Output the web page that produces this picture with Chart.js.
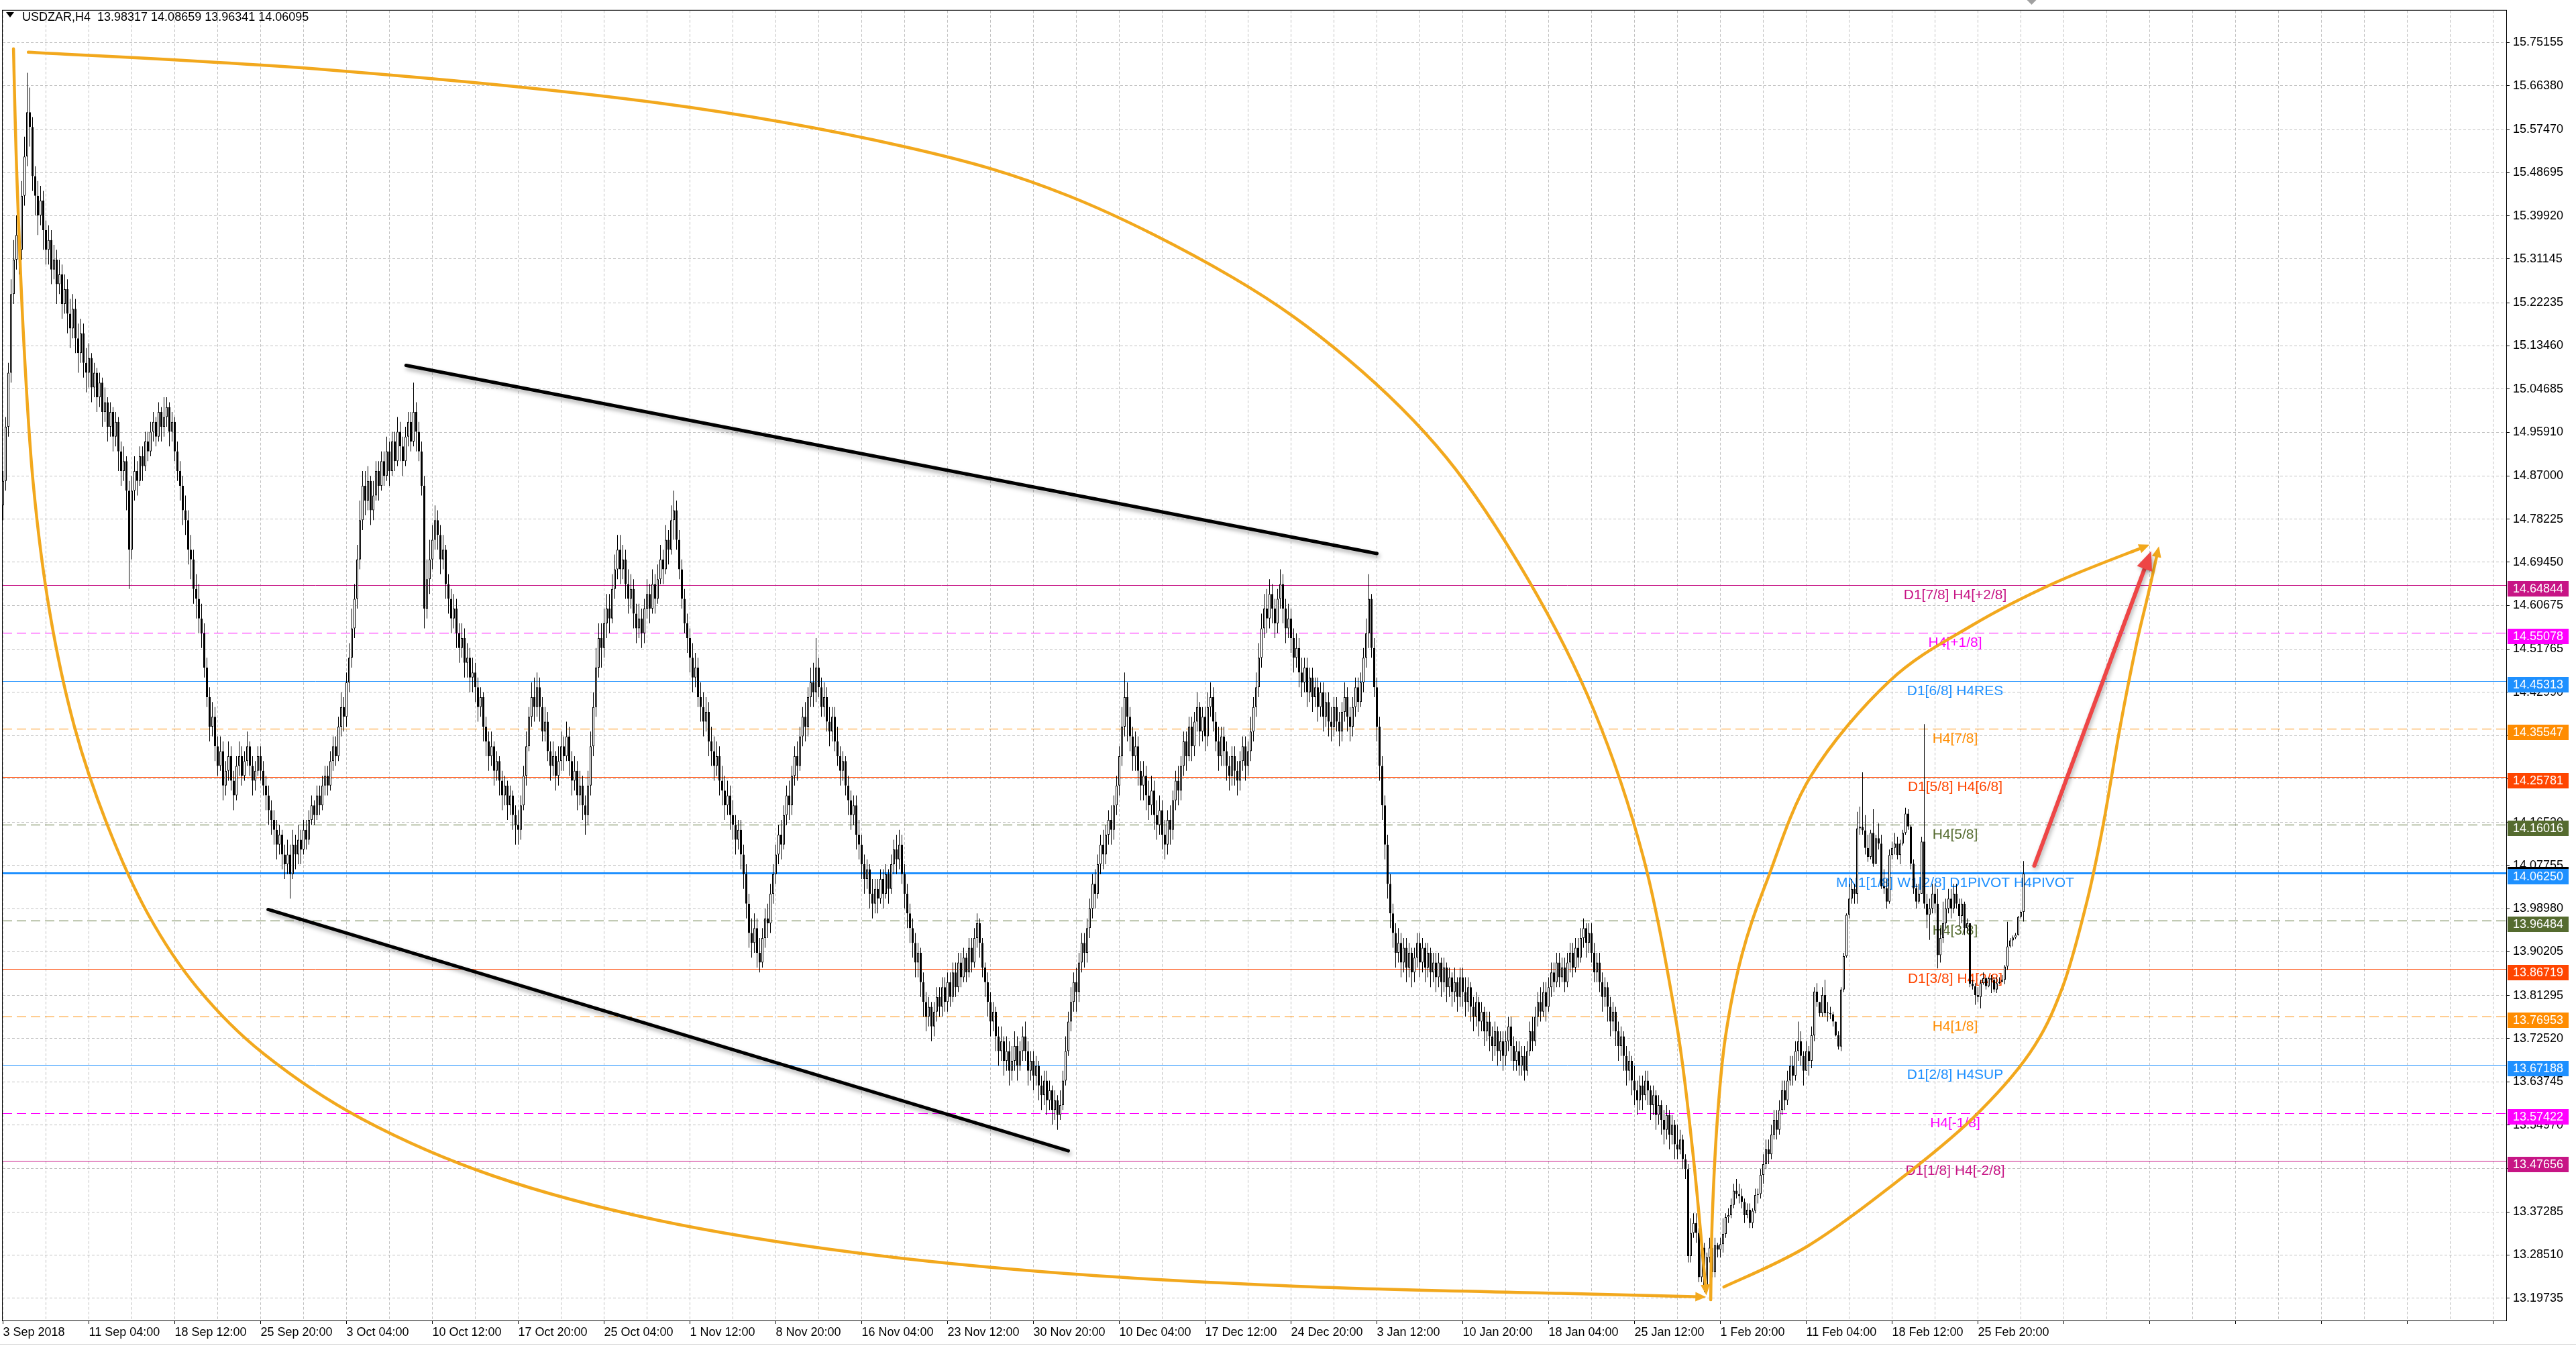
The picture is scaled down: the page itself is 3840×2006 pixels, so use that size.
<!DOCTYPE html>
<html>
<head>
<meta charset="utf-8">
<title>USDZAR,H4</title>
<script src="https://cdn.jsdelivr.net/npm/chart.js@4.4.1/dist/chart.umd.min.js"></script>
<style>
  html, body { margin: 0; padding: 0; background: #fff; }
  canvas { display: block; }
</style>
</head>
<body>
<canvas id="chart" width="3840" height="2006"></canvas>
<script>
// USDZAR H4 candles, 3 Sep 2018 .. 28 Feb 2019
const symbol = 'USDZAR';
const period = 'H4';
const firstOpen = 14.81;

const closes = [
  // 3 Sep
  14.86,14.97,15.08,15.24,15.31,15.36,15.33,15.44,15.52,15.61,15.58,15.48,15.44,15.40,15.43,15.37,
  15.33,15.35,15.29,15.31,15.26,15.28,15.22,15.25,15.20,15.17,15.21,15.15,15.12,15.16,15.10,15.08,
  // 11 Sep
  15.11,15.05,15.08,15.03,15.06,15.00,15.02,14.97,15.00,14.95,14.98,14.92,14.88,14.90,14.84,14.72,
  14.84,14.88,14.86,14.91,14.89,14.94,14.92,14.96,14.98,14.95,15.00,14.97,14.99,15.01,14.96,14.98,
  // 18 Sep
  14.92,14.88,14.85,14.80,14.78,14.72,14.70,14.64,14.62,14.58,14.55,14.48,14.42,14.36,14.38,14.32,
  14.28,14.31,14.24,14.27,14.30,14.25,14.22,14.28,14.30,14.26,14.29,14.32,14.28,14.25,14.27,14.30,
  // 25 Sep
  14.27,14.24,14.22,14.19,14.17,14.15,14.12,14.14,14.10,14.08,14.10,14.06,14.12,14.10,14.13,14.11,
  14.15,14.13,14.17,14.20,14.18,14.22,14.20,14.24,14.26,14.24,14.29,14.32,14.30,14.36,14.40,14.38,
  // 3 Oct
  14.45,14.50,14.56,14.62,14.70,14.78,14.85,14.82,14.86,14.80,14.83,14.88,14.85,14.90,14.87,14.92,
  14.88,14.94,14.90,14.96,14.93,14.90,14.95,14.98,14.94,15.00,14.96,14.92,14.85,14.60,14.66,14.70,
  // 10 Oct
  14.74,14.78,14.75,14.70,14.72,14.65,14.62,14.58,14.60,14.55,14.52,14.54,14.49,14.50,14.46,14.47,
  14.44,14.40,14.42,14.36,14.33,14.30,14.32,14.27,14.29,14.25,14.22,14.24,14.20,14.22,14.18,14.16,
  // 17 Oct
  14.15,14.20,14.26,14.32,14.38,14.42,14.40,14.44,14.40,14.35,14.37,14.31,14.28,14.30,14.26,14.29,
  14.32,14.30,14.34,14.29,14.25,14.27,14.22,14.24,14.20,14.18,14.24,14.32,14.40,14.48,14.54,14.52,
  // 25 Oct
  14.57,14.60,14.58,14.64,14.68,14.72,14.68,14.70,14.65,14.62,14.64,14.59,14.56,14.58,14.55,14.60,
  14.63,14.60,14.65,14.62,14.66,14.70,14.68,14.74,14.72,14.78,14.80,14.74,14.68,14.62,14.57,14.54,
  // 1 Nov
  14.50,14.46,14.48,14.42,14.40,14.37,14.39,14.33,14.31,14.28,14.30,14.25,14.23,14.20,14.22,14.18,
  14.16,14.13,14.15,14.10,14.06,14.00,13.94,13.92,13.95,13.90,13.88,13.93,13.97,13.96,14.02,14.06,
  // 8 Nov
  14.10,14.14,14.12,14.18,14.22,14.20,14.26,14.30,14.28,14.34,14.38,14.36,14.42,14.45,14.43,14.48,
  14.44,14.40,14.42,14.37,14.35,14.38,14.33,14.30,14.27,14.29,14.24,14.21,14.18,14.20,14.14,14.12,
  // 16 Nov
  14.08,14.05,14.07,14.02,14.00,14.03,14.01,14.05,14.02,14.06,14.03,14.08,14.11,14.09,14.12,14.06,
  14.02,13.98,13.95,13.92,13.88,13.90,13.84,13.80,13.77,13.79,13.75,13.78,13.81,13.79,13.83,13.80,
  // 23 Nov
  13.84,13.81,13.86,13.83,13.88,13.85,13.89,13.86,13.91,13.88,13.93,13.96,13.92,13.87,13.84,13.80,
  13.76,13.78,13.73,13.70,13.72,13.68,13.70,13.66,13.68,13.71,13.67,13.70,13.73,13.70,13.66,13.68,
  // 30 Nov
  13.65,13.67,13.63,13.61,13.64,13.60,13.62,13.58,13.60,13.57,13.59,13.64,13.70,13.76,13.80,13.84,
  13.82,13.88,13.92,13.90,13.95,13.99,14.04,14.02,14.08,14.12,14.10,14.14,14.17,14.15,14.20,14.24,
  // 10 Dec
  14.30,14.36,14.42,14.38,14.34,14.30,14.32,14.27,14.24,14.26,14.22,14.20,14.23,14.18,14.16,14.19,
  14.14,14.12,14.17,14.15,14.21,14.25,14.23,14.28,14.33,14.30,14.36,14.32,14.37,14.40,14.35,14.38,
  // 17 Dec
  14.34,14.40,14.42,14.37,14.33,14.30,14.34,14.31,14.28,14.26,14.30,14.27,14.25,14.29,14.32,14.28,
  14.31,14.35,14.40,14.44,14.50,14.56,14.60,14.58,14.63,14.60,14.57,14.62,14.65,14.60,14.56,14.58,
  // 24 Dec
  14.54,14.50,14.52,14.47,14.45,14.48,14.43,14.46,14.42,14.44,14.40,14.43,14.38,14.41,14.37,14.36,
  14.40,14.37,14.35,14.39,14.42,14.38,14.36,14.40,14.44,14.41,14.45,14.50,14.55,14.62,14.52,14.44,
  // 3 Jan
  14.36,14.28,14.20,14.12,14.04,13.98,13.94,13.90,13.92,13.88,13.91,13.87,13.90,13.86,13.89,13.92,
  13.88,13.91,13.87,13.90,13.86,13.88,13.85,13.88,13.84,13.87,13.83,13.85,13.82,13.84,13.81,13.85,
  // 10 Jan
  13.82,13.80,13.83,13.79,13.77,13.80,13.76,13.78,13.74,13.76,13.73,13.71,13.74,13.70,13.72,13.69,
  13.72,13.75,13.71,13.68,13.70,13.67,13.69,13.66,13.70,13.74,13.72,13.77,13.80,13.78,13.82,13.79,
  // 18 Jan
  13.83,13.86,13.84,13.88,13.85,13.87,13.84,13.88,13.90,13.87,13.91,13.89,13.93,13.95,13.92,13.94,
  13.90,13.86,13.88,13.84,13.81,13.83,13.79,13.76,13.78,13.74,13.71,13.73,13.69,13.66,13.68,13.64,
  // 25 Jan
  13.62,13.60,13.63,13.61,13.64,13.62,13.59,13.61,13.57,13.59,13.56,13.54,13.57,13.53,13.55,13.51,
  13.50,13.52,13.48,13.46,13.283,13.33,13.35,13.33,13.24,13.30,13.22,13.28,13.30,13.25,13.305,13.296,
  // 1 Feb
  13.307,13.328,13.362,13.366,13.387,13.416,13.409,13.405,13.393,13.366,13.377,13.35,13.375,13.407,13.409,13.448,
  13.47,13.50,13.49,13.53,13.56,13.54,13.58,13.62,13.60,13.64,13.67,13.65,13.70,13.72,13.69,13.66,
  // 11 Feb
  13.70,13.68,13.732,13.821,13.800,13.777,13.814,13.777,13.777,13.775,13.760,13.732,13.709,13.825,13.893,13.977,
  14.01,14.03,14.02,14.153,14.156,14.149,14.113,14.095,14.144,14.081,14.133,14.122,14.035,14.031,14.004,14.099,
  // 18 Feb
  14.113,14.122,14.099,14.122,14.144,14.183,14.157,14.081,14.031,14.004,14.02,14.126,14.00,13.977,13.99,14.02,
  14.00,13.895,13.93,13.96,13.99,14.01,13.99,14.02,14.00,13.975,14.00,13.95,13.96,13.837,13.832,13.814,
  // 25 Feb
  13.81,13.838,13.848,13.832,13.848,13.845,13.825,13.838,13.841,13.845,13.872,13.913,13.925,13.931,13.936,13.973,13.98317,14.06095
];

const highs = [
  14.88,14.99,15.10,15.27,15.35,15.40,15.39,15.47,15.56,15.69,15.66,15.60,15.50,15.47,15.46,15.45,
  15.39,15.38,15.37,15.34,15.33,15.31,15.30,15.28,15.27,15.23,15.24,15.23,15.18,15.19,15.18,15.13,
  15.14,15.12,15.10,15.09,15.08,15.07,15.05,15.03,15.02,15.01,15.00,14.99,14.94,14.93,14.91,14.86,
  14.87,14.91,14.90,14.93,14.93,14.96,14.96,14.98,15.00,14.99,15.02,15.01,15.03,15.03,15.02,15.00,
  14.99,14.94,14.90,14.87,14.83,14.80,14.75,14.72,14.67,14.65,14.61,14.57,14.50,14.44,14.41,14.40,
  14.34,14.34,14.33,14.29,14.33,14.32,14.27,14.30,14.33,14.32,14.31,14.35,14.33,14.30,14.29,14.32,
  14.32,14.29,14.26,14.24,14.21,14.19,14.17,14.16,14.15,14.12,14.13,14.12,14.15,14.14,14.16,14.15,
  14.17,14.17,14.19,14.22,14.21,14.24,14.24,14.26,14.28,14.28,14.31,14.34,14.34,14.38,14.43,14.42,
  14.47,14.53,14.60,14.65,14.73,14.82,14.88,14.88,14.89,14.87,14.86,14.90,14.90,14.92,14.92,14.95,
  14.94,14.96,14.96,14.99,14.98,14.95,14.97,15.00,15.00,15.06,15.02,14.98,14.94,14.87,14.70,14.74,
  14.77,14.81,14.80,14.77,14.75,14.73,14.67,14.64,14.63,14.62,14.57,14.57,14.56,14.53,14.52,14.50,
  14.49,14.46,14.44,14.43,14.38,14.35,14.35,14.33,14.31,14.30,14.27,14.26,14.25,14.24,14.23,14.20,
  14.19,14.22,14.28,14.35,14.40,14.45,14.46,14.47,14.46,14.42,14.40,14.39,14.33,14.33,14.31,14.32,
  14.35,14.34,14.37,14.36,14.31,14.30,14.29,14.27,14.26,14.22,14.27,14.35,14.43,14.52,14.57,14.57,
  14.60,14.63,14.63,14.67,14.71,14.75,14.75,14.73,14.72,14.68,14.67,14.66,14.61,14.61,14.60,14.62,
  14.66,14.65,14.68,14.67,14.69,14.73,14.72,14.77,14.76,14.81,14.84,14.82,14.76,14.70,14.64,14.59,
  14.56,14.53,14.51,14.50,14.45,14.43,14.42,14.41,14.36,14.34,14.33,14.32,14.28,14.26,14.25,14.24,
  14.21,14.18,14.17,14.17,14.12,14.08,14.02,13.97,13.98,13.97,13.93,13.95,13.99,14.00,14.04,14.08,
  14.12,14.16,14.17,14.20,14.24,14.25,14.28,14.32,14.33,14.36,14.40,14.41,14.44,14.48,14.49,14.54,
  14.50,14.46,14.45,14.44,14.40,14.40,14.40,14.36,14.32,14.31,14.30,14.26,14.23,14.22,14.22,14.17,
  14.14,14.10,14.09,14.08,14.05,14.05,14.05,14.07,14.07,14.08,14.07,14.10,14.13,14.14,14.15,14.14,
  14.08,14.04,14.00,13.97,13.94,13.92,13.91,13.86,13.82,13.81,13.80,13.80,13.83,13.83,13.85,13.85,
  13.86,13.86,13.88,13.88,13.90,13.90,13.91,13.90,13.93,13.93,13.95,13.98,13.97,13.93,13.88,13.86,
  13.82,13.80,13.79,13.75,13.75,13.73,13.73,13.72,13.71,13.74,13.73,13.72,13.75,13.76,13.72,13.70,
  13.70,13.69,13.68,13.65,13.66,13.66,13.64,13.63,13.62,13.61,13.62,13.66,13.73,13.78,13.83,13.86,
  13.87,13.90,13.94,13.94,13.97,14.01,14.06,14.07,14.10,14.14,14.15,14.16,14.19,14.20,14.22,14.26,
  14.32,14.40,14.47,14.45,14.40,14.36,14.35,14.34,14.29,14.29,14.28,14.25,14.26,14.25,14.21,14.22,
  14.21,14.17,14.19,14.20,14.23,14.27,14.28,14.30,14.35,14.35,14.38,14.38,14.39,14.43,14.41,14.40,
  14.40,14.43,14.45,14.44,14.39,14.36,14.36,14.36,14.33,14.30,14.32,14.32,14.29,14.31,14.34,14.34,
  14.33,14.38,14.42,14.47,14.53,14.59,14.63,14.64,14.66,14.65,14.62,14.64,14.68,14.67,14.62,14.61,
  14.60,14.56,14.55,14.54,14.50,14.50,14.50,14.48,14.48,14.46,14.46,14.45,14.45,14.43,14.43,14.40,
  14.42,14.42,14.39,14.41,14.45,14.44,14.40,14.42,14.46,14.46,14.47,14.52,14.58,14.67,14.63,14.54,
  14.46,14.38,14.30,14.22,14.14,14.06,14.00,13.96,13.95,13.94,13.93,13.93,13.92,13.91,13.91,13.94,
  13.94,13.93,13.92,13.92,13.91,13.90,13.90,13.90,13.89,13.89,13.88,13.87,13.86,13.87,13.85,13.87,
  13.87,13.85,13.85,13.84,13.81,13.82,13.81,13.80,13.79,13.78,13.78,13.75,13.76,13.75,13.74,13.74,
  13.74,13.77,13.77,13.73,13.72,13.72,13.71,13.71,13.72,13.76,13.77,13.79,13.82,13.83,13.84,13.84,
  13.85,13.88,13.88,13.90,13.90,13.89,13.89,13.90,13.92,13.92,13.93,13.93,13.95,13.97,13.96,13.96,
  13.96,13.92,13.90,13.90,13.86,13.85,13.84,13.81,13.80,13.79,13.76,13.75,13.74,13.71,13.70,13.69,
  13.67,13.64,13.65,13.65,13.66,13.66,13.63,13.63,13.62,13.61,13.60,13.58,13.59,13.58,13.57,13.56,
  13.55,13.54,13.53,13.49,13.47,13.36,13.37,13.37,13.34,13.31,13.31,13.29,13.32,13.332,13.32,13.31,
  13.32,13.36,13.37,13.38,13.40,13.43,13.44,13.43,13.42,13.40,13.39,13.39,13.38,13.42,13.42,13.46,
  13.49,13.52,13.52,13.55,13.58,13.58,13.60,13.64,13.64,13.66,13.69,13.69,13.72,13.76,13.74,13.70,
  13.72,13.71,13.75,13.83,13.838,13.80,13.83,13.845,13.80,13.79,13.78,13.76,13.74,13.83,13.90,13.98,
  14.04,14.05,14.04,14.187,14.197,14.267,14.18,14.14,14.15,14.192,14.14,14.163,14.14,14.07,14.05,14.11,
  14.126,14.144,14.136,14.13,14.15,14.195,14.192,14.16,14.09,14.04,14.04,14.136,14.365,14.02,14.01,14.04,
  14.04,14.03,13.95,14.004,14.01,14.03,14.03,14.04,14.04,14.01,14.01,14.004,13.97,13.96,13.845,13.838,
  13.83,13.845,13.86,13.85,13.85,13.855,13.85,13.85,13.85,13.855,13.875,13.963,13.93,13.935,13.94,13.975,13.986,14.08659
];

const lows = [
  14.78,14.84,14.95,15.06,15.22,15.29,15.28,15.31,15.42,15.50,15.54,15.45,15.40,15.36,15.38,15.33,
  15.30,15.30,15.26,15.27,15.22,15.24,15.19,15.20,15.16,15.13,15.15,15.12,15.08,15.10,15.07,15.04,
  15.05,15.02,15.03,15.00,15.01,14.97,14.98,14.94,14.95,14.92,14.93,14.88,14.85,14.86,14.80,14.64,
  14.70,14.82,14.83,14.85,14.86,14.88,14.90,14.91,14.94,14.93,14.94,14.94,14.95,14.97,14.93,14.94,
  14.90,14.86,14.82,14.77,14.75,14.69,14.66,14.61,14.58,14.55,14.52,14.46,14.40,14.33,14.34,14.29,
  14.26,14.27,14.21,14.22,14.25,14.23,14.19,14.21,14.26,14.24,14.25,14.28,14.26,14.22,14.23,14.26,
  14.25,14.22,14.19,14.16,14.14,14.12,14.09,14.10,14.07,14.05,14.06,14.01,14.05,14.07,14.08,14.08,
  14.10,14.11,14.12,14.16,14.16,14.17,14.18,14.19,14.22,14.22,14.23,14.27,14.28,14.29,14.34,14.35,
  14.36,14.43,14.48,14.54,14.60,14.68,14.76,14.79,14.80,14.77,14.78,14.82,14.82,14.84,14.85,14.86,
  14.85,14.87,14.88,14.89,14.90,14.87,14.89,14.93,14.92,14.93,14.92,14.90,14.83,14.56,14.58,14.63,
  14.68,14.72,14.72,14.67,14.68,14.62,14.59,14.55,14.56,14.52,14.49,14.50,14.46,14.46,14.43,14.43,
  14.41,14.37,14.38,14.33,14.30,14.27,14.28,14.24,14.25,14.22,14.19,14.20,14.17,14.18,14.15,14.12,
  14.12,14.13,14.19,14.24,14.31,14.36,14.37,14.38,14.37,14.33,14.33,14.29,14.25,14.26,14.23,14.24,
  14.27,14.27,14.29,14.26,14.22,14.23,14.19,14.20,14.17,14.14,14.16,14.22,14.30,14.38,14.46,14.48,
  14.50,14.54,14.55,14.57,14.62,14.66,14.65,14.66,14.62,14.59,14.60,14.56,14.53,14.54,14.52,14.53,
  14.58,14.57,14.59,14.59,14.61,14.65,14.65,14.67,14.69,14.71,14.74,14.72,14.66,14.60,14.55,14.51,
  14.47,14.43,14.44,14.40,14.37,14.34,14.35,14.30,14.28,14.25,14.26,14.22,14.20,14.17,14.18,14.15,
  14.13,14.10,14.11,14.07,14.03,13.97,13.91,13.89,13.90,13.87,13.86,13.87,13.91,13.93,13.94,14.00,
  14.04,14.08,14.09,14.11,14.16,14.17,14.18,14.24,14.25,14.27,14.32,14.33,14.34,14.40,14.40,14.41,
  14.42,14.38,14.38,14.35,14.32,14.33,14.31,14.28,14.24,14.25,14.22,14.18,14.15,14.16,14.11,14.09,
  14.05,14.02,14.03,13.99,13.97,13.98,13.98,14.00,13.99,14.01,14.00,14.02,14.06,14.06,14.07,14.04,
  13.99,13.95,13.92,13.89,13.85,13.85,13.81,13.77,13.74,13.75,13.72,13.73,13.76,13.77,13.77,13.78,
  13.78,13.79,13.80,13.81,13.82,13.83,13.84,13.84,13.85,13.86,13.87,13.91,13.89,13.85,13.81,13.77,
  13.73,13.74,13.70,13.67,13.68,13.65,13.66,13.63,13.64,13.66,13.64,13.66,13.68,13.68,13.63,13.64,
  13.62,13.63,13.60,13.58,13.59,13.57,13.58,13.55,13.56,13.54,13.56,13.58,13.63,13.69,13.74,13.78,
  13.78,13.80,13.86,13.87,13.88,13.93,13.97,13.99,14.01,14.06,14.07,14.08,14.12,14.12,14.13,14.18,
  14.22,14.28,14.34,14.33,14.31,14.27,14.27,14.24,14.21,14.21,14.19,14.17,14.18,14.15,14.13,14.14,
  14.11,14.09,14.10,14.12,14.13,14.19,14.20,14.21,14.26,14.27,14.29,14.29,14.30,14.35,14.32,14.33,
  14.31,14.32,14.38,14.35,14.31,14.27,14.28,14.28,14.25,14.23,14.24,14.24,14.22,14.23,14.27,14.25,
  14.26,14.29,14.33,14.38,14.42,14.48,14.54,14.55,14.56,14.57,14.54,14.55,14.60,14.57,14.53,14.54,
  14.51,14.47,14.48,14.44,14.42,14.43,14.40,14.41,14.39,14.40,14.37,14.38,14.35,14.36,14.34,14.33,
  14.34,14.35,14.32,14.33,14.37,14.35,14.33,14.34,14.38,14.39,14.40,14.43,14.48,14.52,14.50,14.42,
  14.33,14.25,14.17,14.09,14.01,13.95,13.91,13.87,13.88,13.85,13.86,13.84,13.85,13.83,13.84,13.87,
  13.85,13.86,13.84,13.85,13.83,13.84,13.82,13.83,13.81,13.82,13.80,13.81,13.79,13.80,13.78,13.79,
  13.79,13.77,13.78,13.76,13.74,13.75,13.73,13.74,13.71,13.72,13.70,13.68,13.69,13.67,13.68,13.66,
  13.67,13.70,13.68,13.66,13.66,13.65,13.65,13.64,13.65,13.69,13.70,13.71,13.75,13.76,13.77,13.76,
  13.78,13.81,13.82,13.83,13.83,13.84,13.82,13.83,13.86,13.85,13.86,13.87,13.88,13.91,13.89,13.90,
  13.88,13.84,13.84,13.82,13.78,13.79,13.76,13.73,13.74,13.71,13.68,13.69,13.66,13.63,13.64,13.61,
  13.59,13.57,13.58,13.58,13.60,13.59,13.56,13.57,13.54,13.55,13.53,13.51,13.52,13.50,13.51,13.48,
  13.48,13.49,13.46,13.44,13.27,13.27,13.32,13.31,13.23,13.23,13.21,13.21,13.27,13.24,13.24,13.28,
  13.28,13.29,13.32,13.35,13.36,13.38,13.40,13.39,13.38,13.35,13.36,13.34,13.34,13.37,13.39,13.40,
  13.43,13.46,13.47,13.48,13.52,13.52,13.53,13.57,13.58,13.59,13.63,13.63,13.64,13.68,13.67,13.63,
  13.66,13.65,13.665,13.72,13.79,13.77,13.77,13.77,13.76,13.765,13.75,13.73,13.703,13.70,13.82,13.89,
  13.97,14.00,14.00,14.00,14.14,14.14,14.10,14.085,14.09,14.075,14.08,14.11,14.03,14.02,13.99,14.00,
  14.09,14.10,14.09,14.08,14.118,14.14,14.15,14.07,14.02,13.99,14.00,14.02,13.99,13.95,13.926,13.98,
  13.98,13.868,13.88,13.92,13.95,13.98,13.97,13.98,13.99,13.954,13.96,13.936,13.94,13.83,13.825,13.794,
  13.80,13.787,13.835,13.825,13.83,13.818,13.82,13.818,13.836,13.84,13.836,13.865,13.91,13.913,13.928,13.935,13.97,13.96341
];

// time axis: one label every 32 bars, grid every 16 bars
const tickLabels = [
  '3 Sep 2018', '11 Sep 04:00', '18 Sep 12:00', '25 Sep 20:00', '3 Oct 04:00', '10 Oct 12:00',
  '17 Oct 20:00', '25 Oct 04:00', '1 Nov 12:00', '8 Nov 20:00', '16 Nov 04:00', '23 Nov 12:00',
  '30 Nov 20:00', '10 Dec 04:00', '17 Dec 12:00', '24 Dec 20:00', '3 Jan 12:00', '10 Jan 20:00',
  '18 Jan 04:00', '25 Jan 12:00', '1 Feb 20:00', '11 Feb 04:00', '18 Feb 12:00', '25 Feb 20:00'
];
const barsPerLabel = 32;
const barsPerGrid = 16;
const lastGridBar = 928;

const priceTicks = [
  15.75155, 15.66380, 15.57470, 15.48695, 15.39920, 15.31145, 15.22235, 15.13460, 15.04685, 14.95910,
  14.87000, 14.78225, 14.69450, 14.60675, 14.51765, 14.42990, 14.34215, 14.25440, 14.16530, 14.07755,
  13.98980, 13.90205, 13.81295, 13.72520, 13.63745, 13.54970, 13.46060, 13.37285, 13.28510, 13.19735
];

// Murrey-style levels drawn by the indicator
const levelPrices = [14.64844, 14.55078, 14.45313, 14.35547, 14.25781, 14.16016, 14.06250,
                     13.96484, 13.86719, 13.76953, 13.67188, 13.57422, 13.47656];
const levelNames = ['D1[7/8] H4[+2/8]', 'H4[+1/8]', 'D1[6/8] H4RES', 'H4[7/8]', 'D1[5/8] H4[6/8]', 'H4[5/8]',
                    'MN1[1/8] W1[2/8] D1PIVOT H4PIVOT', 'H4[3/8]', 'D1[3/8] H4[2/8]', 'H4[1/8]',
                    'D1[2/8] H4SUP', 'H4[-1/8]', 'D1[1/8] H4[-2/8]'];
const levelColors = ['#C71585', '#FF00FF', '#1E90FF', '#FF8C00', '#FF4500', '#556B2F', '#1E90FF',
                     '#556B2F', '#FF4500', '#FF8C00', '#1E90FF', '#FF00FF', '#C71585'];
const levelDashed = [false, true, false, true, false, true, false, true, false, true, false, true, false];
const levelWidths = [1, 1, 1, 1, 1, 1, 3, 1, 1, 1, 1, 1, 1];
const levelLabelBar = 727.5;

// hand-drawn objects, [bar, price]
const trendLines = [
  [[150.2, 15.095], [512.0, 14.712]],
  [[98.8, 13.988], [397.0, 13.497]]
];
const orangeCurves = [
  [[3.9, 15.739], [5.1, 15.490], [7.6, 15.158], [11.2, 14.858], [17.4, 14.593], [26.6, 14.360],
   [38.8, 14.161], [54.1, 13.978], [72.5, 13.828], [97.0, 13.695], [133.7, 13.562], [182.7, 13.446],
   [243.9, 13.356], [317.4, 13.290], [397.0, 13.247], [488.8, 13.220], [580.7, 13.207], [632.7, 13.200]],
  [[9.4, 15.732], [121.5, 15.696], [243.9, 15.629], [335.8, 15.540], [397.0, 15.440], [458.2, 15.274],
   [501.1, 15.108], [537.8, 14.908], [568.4, 14.659], [592.9, 14.393], [611.3, 14.094], [623.5, 13.762],
   [629.7, 13.496], [634.6, 13.214]],
  [[636.4, 13.194], [637.0, 13.363], [638.9, 13.563], [641.9, 13.729], [648.0, 13.895], [657.2, 14.044],
   [673.8, 14.260], [703.1, 14.453], [733.8, 14.566], [764.4, 14.652], [798.1, 14.726]],
  [[641.3, 13.220], [672.5, 13.303], [706.2, 13.436], [733.8, 13.562], [755.2, 13.695], [767.4, 13.828],
   [776.6, 14.004], [782.7, 14.161], [788.9, 14.357], [795.0, 14.526], [799.3, 14.626], [803.0, 14.716]]
];
const redArrow = [[757.0, 14.077], [799.3, 14.699]];
const shiftMarkBar = 756;

const opens = closes.map((c, i) => (i === 0 ? firstOpen : closes[i - 1]));
const bodies = closes.map((c, i) => ({ x: i, y: [opens[i], c] }));
const wicks = closes.map((c, i) => ({ x: i, y: [lows[i], highs[i]] }));
const bodyColors = closes.map((c, i) => (c >= opens[i] ? '#ffffff' : '#000000'));
const gridBars = [];
for (let b = 0; b <= lastGridBar; b += barsPerGrid) gridBars.push(b);

const FONT = '"Liberation Sans", Arial, sans-serif';

function toPx(pts, x, y) {
  return pts.map(([b, p]) => ({ x: x.getPixelForValue(b), y: y.getPixelForValue(p) }));
}

function smoothPath(ctx, pts) {
  ctx.moveTo(pts[0].x, pts[0].y);
  for (let k = 0; k < pts.length - 1; k++) {
    const p0 = pts[Math.max(k - 1, 0)], p1 = pts[k], p2 = pts[k + 1];
    const p3 = pts[Math.min(k + 2, pts.length - 1)];
    ctx.bezierCurveTo(p1.x + (p2.x - p0.x) / 6, p1.y + (p2.y - p0.y) / 6,
                      p2.x - (p3.x - p1.x) / 6, p2.y - (p3.y - p1.y) / 6, p2.x, p2.y);
  }
}

function arrowHead(ctx, from, to, len, half) {
  const a = Math.atan2(to.y - from.y, to.x - from.x);
  const tx = to.x + Math.cos(a) * len * 0.5, ty = to.y + Math.sin(a) * len * 0.5;
  const bx = tx - Math.cos(a) * len, by = ty - Math.sin(a) * len;
  ctx.beginPath();
  ctx.moveTo(tx, ty);
  ctx.lineTo(bx + Math.sin(a) * half, by - Math.cos(a) * half);
  ctx.lineTo(bx - Math.sin(a) * half, by + Math.cos(a) * half);
  ctx.closePath();
  ctx.fill();
}

const mt4 = {
  id: 'mt4',
  beforeDatasetsDraw(chart) {
    const { ctx, chartArea: a, scales: { x, y } } = chart;
    ctx.save();
    ctx.beginPath();
    ctx.rect(a.left, a.top, a.right - a.left, a.bottom - a.top);
    ctx.clip();
    levelPrices.forEach((p, k) => {
      const py = Math.round(y.getPixelForValue(p)) + (levelWidths[k] % 2 ? 0.5 : 0);
      ctx.strokeStyle = levelColors[k];
      ctx.lineWidth = levelWidths[k];
      ctx.setLineDash(levelDashed[k] ? [14, 7] : []);
      ctx.beginPath();
      ctx.moveTo(a.left, py);
      ctx.lineTo(a.right, py);
      ctx.stroke();
      ctx.setLineDash([]);
      ctx.fillStyle = levelColors[k];
      ctx.font = '21px ' + FONT;
      ctx.textAlign = 'center';
      ctx.textBaseline = 'alphabetic';
      ctx.fillText(levelNames[k], x.getPixelForValue(levelLabelBar), py + 20);
    });
    ctx.restore();
  },
  afterDatasetsDraw(chart) {
    const { ctx, chartArea: a, scales: { x, y } } = chart;
    ctx.save();
    ctx.beginPath();
    ctx.rect(a.left, a.top, a.right - a.left, a.bottom - a.top);
    ctx.clip();
    ctx.lineCap = 'round';

    // black channel lines with soft shadow
    ctx.save();
    ctx.shadowColor = 'rgba(0,0,0,0.35)';
    ctx.shadowBlur = 6;
    ctx.shadowOffsetX = 2;
    ctx.shadowOffsetY = 4;
    ctx.strokeStyle = '#000';
    ctx.lineWidth = 5;
    trendLines.forEach(l => {
      const [p, q] = toPx(l, x, y);
      ctx.beginPath();
      ctx.moveTo(p.x, p.y);
      ctx.lineTo(q.x, q.y);
      ctx.stroke();
    });
    ctx.restore();

    // orange arcs
    ctx.strokeStyle = '#F2A81D';
    ctx.fillStyle = '#F2A81D';
    ctx.lineWidth = 4.5;
    orangeCurves.forEach(c => {
      const pts = toPx(c, x, y);
      ctx.beginPath();
      smoothPath(ctx, pts);
      ctx.stroke();
      arrowHead(ctx, pts[pts.length - 2], pts[pts.length - 1], 16, 7);
    });

    // red forecast arrow
    ctx.save();
    ctx.shadowColor = 'rgba(0,0,0,0.3)';
    ctx.shadowBlur = 6;
    ctx.shadowOffsetX = 2;
    ctx.shadowOffsetY = 3;
    const [s, e] = toPx(redArrow, x, y);
    ctx.strokeStyle = '#EE4646';
    ctx.fillStyle = '#EE4646';
    ctx.lineWidth = 6;
    ctx.beginPath();
    ctx.moveTo(s.x, s.y);
    ctx.lineTo(e.x, e.y);
    ctx.stroke();
    arrowHead(ctx, s, e, 28, 12);
    ctx.restore();
    ctx.restore();
  },
  afterDraw(chart) {
    const { ctx, chartArea: a, scales: { x, y } } = chart;
    ctx.save();
    // frame
    ctx.strokeStyle = '#000';
    ctx.lineWidth = 1;
    ctx.strokeRect(a.left - 0.5, a.top - 0.5, a.right - a.left + 1, a.bottom - a.top + 1);
    ctx.fillStyle = '#d6d6d6';
    ctx.fillRect(0, 2003, chart.width, 1);

    // price labels on the right scale
    ctx.font = '18px ' + FONT;
    ctx.textAlign = 'left';
    ctx.textBaseline = 'middle';
    const lastY = Math.round(y.getPixelForValue(closes[closes.length - 1]));
    ctx.fillStyle = '#000';
    ctx.fillRect(a.right + 2, lastY - 10, 91, 23);
    levelPrices.forEach((p, k) => {
      const py = Math.round(y.getPixelForValue(p));
      ctx.fillStyle = levelColors[k];
      ctx.fillRect(a.right + 2, py - 6, 91, 23);
      ctx.fillStyle = '#fff';
      ctx.fillText(p.toFixed(5), a.right + 10, py + 6);
    });

    // header
    const n = closes.length - 1;
    ctx.fillStyle = '#000';
    ctx.beginPath();
    ctx.moveTo(9, 18); ctx.lineTo(21, 18); ctx.lineTo(15, 26);
    ctx.closePath();
    ctx.fill();
    ctx.textBaseline = 'alphabetic';
    ctx.fillText(symbol + ',' + period + '  ' + [opens[n], highs[n], lows[n], closes[n]].map(v => v.toFixed(5)).join(' '), 33, 31);

    // chart shift marker
    const sx = x.getPixelForValue(shiftMarkBar);
    ctx.fillStyle = '#a0a0a0';
    ctx.beginPath();
    ctx.moveTo(sx - 7, 0); ctx.lineTo(sx + 7, 0); ctx.lineTo(sx, 7);
    ctx.closePath();
    ctx.fill();
    ctx.restore();
  }
};

new Chart(document.getElementById('chart'), {
  type: 'bar',
  data: {
    datasets: [
      {
        label: 'body',
        data: bodies,
        backgroundColor: bodyColors,
        borderColor: '#000',
        borderWidth: 1,
        borderSkipped: false,
        barThickness: 3,
        minBarLength: 1,
        inflateAmount: 0,
        grouped: false
      },
      {
        label: 'wick',
        data: wicks,
        backgroundColor: '#000',
        borderWidth: 0,
        barThickness: 1,
        inflateAmount: 0,
        grouped: false
      }
    ]
  },
  options: {
    responsive: false,
    animation: false,
    devicePixelRatio: 1,
    events: [],
    layout: { padding: { left: 4, top: 4, right: 0, bottom: 0 } },
    plugins: { legend: { display: false }, tooltip: { enabled: false }, title: { display: false } },
    scales: {
      x: {
        type: 'linear',
        min: -0.125,
        max: 932.875,
        offset: false,
        afterBuildTicks: s => { s.ticks = gridBars.map(v => ({ value: v })); },
        afterFit: s => { s.height = 38; },
        grid: {
          offset: false,
          color: '#c0c0c0',
          lineWidth: 1,
          tickLength: 5,
          tickColor: c => (c.tick && c.tick.value % barsPerLabel === 0 ? '#000' : 'rgba(0,0,0,0)')
        },
        border: { display: false, dash: [4, 3] },
        ticks: {
          autoSkip: false,
          maxRotation: 0,
          minRotation: 0,
          align: 'start',
          padding: 2,
          color: '#000',
          font: { family: FONT, size: 18 },
          callback: v => (v % barsPerLabel === 0 ? tickLabels[v / barsPerLabel] || '' : '')
        }
      },
      y: {
        type: 'linear',
        position: 'right',
        min: 13.15183,
        max: 15.81669,
        beginAtZero: false,
        afterBuildTicks: s => { s.ticks = priceTicks.map(v => ({ value: v })); },
        afterFit: s => { s.width = 104; },
        grid: { color: '#c0c0c0', lineWidth: 1, tickLength: 5, tickColor: '#000' },
        border: { display: false, dash: [4, 3] },
        ticks: {
          padding: 5,
          color: '#000',
          font: { family: FONT, size: 18 },
          callback: v => v.toFixed(5)
        }
      }
    }
  },
  plugins: [mt4]
});
</script>
</body>
</html>
